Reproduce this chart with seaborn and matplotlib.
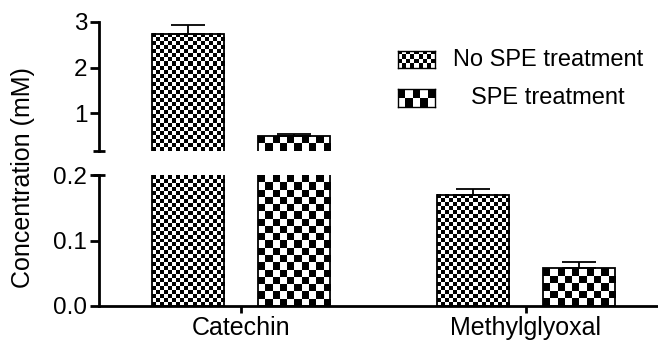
import numpy as np
import pandas as pd
import matplotlib
matplotlib.use("Agg")
import matplotlib.pyplot as plt
import seaborn as sns

# Data
compounds = ["Catechin", "Methylglyoxal"]
treatments = ["No SPE treatment", "SPE treatment"]
conc_no_spe = [2.74, 0.170]
conc_spe = [0.50, 0.058]
sem_no_spe = [0.20, 0.009]
sem_spe = [0.05, 0.009]

df = pd.DataFrame({
    "compound": compounds * 2,
    "treatment": [treatments[0]] * 2 + [treatments[1]] * 2,
    "conc": conc_no_spe + conc_spe,
    "sem": sem_no_spe + sem_spe,
})

sns.set_theme(style="ticks")
plt.rcParams["font.family"] = ["Liberation Sans", "DejaVu Sans"]
plt.rcParams["text.color"] = "black"
plt.rcParams["xtick.color"] = "black"
plt.rcParams["ytick.color"] = "black"
plt.rcParams["axes.edgecolor"] = "black"

W, H = 658, 342
fig = plt.figure(figsize=(W / 100, H / 100), dpi=100)


def fx(px):
    return px / W


def fy(py):
    return 1 - py / H


LEFT, RIGHT = 99, 657
ax_top = fig.add_axes([fx(LEFT), fy(151), fx(RIGHT - LEFT), (151 - 22) / H])
ax_bot = fig.add_axes([fx(LEFT), fy(306), fx(RIGHT - LEFT), (306 - 175) / H])

cell_px = {0: 4.0, 1: 7.2}
TICK_FS = 17.5
XLAB_FS = 18
YLAB_FS = 18
LEG_FS = 17
LW = 2.0


def checker(nx, ny):
    return (np.add.outer(np.arange(ny), np.arange(nx)) % 2).astype(float)


for ax, ylim in [(ax_top, (0.18, 3.0)), (ax_bot, (0.0, 0.2))]:
    sns.barplot(data=df, x="compound", y="conc", hue="treatment",
                order=compounds, hue_order=treatments, width=0.745, gap=0.32,
                errorbar=None, palette=["white", "white"], edgecolor="black",
                linewidth=1.3, legend=False, ax=ax)
    ax.set_xlim(-0.498, 1.46)
    ax.set_ylim(*ylim)
    ax.set_xlabel("")
    ax.set_ylabel("")

    for p in list(ax.patches):
        xc = p.get_x() + p.get_width() / 2
        i = int(round(xc))
        j = 0 if xc < i else 1
        val = p.get_height()
        err = (sem_no_spe if j == 0 else sem_spe)[i]
        if val <= ylim[0]:
            # bar lies entirely below this panel's range
            p.set_visible(False)
            continue
        # checkerboard fill clipped to the visible part of the bar
        x0, x1 = p.get_x(), p.get_x() + p.get_width()
        y0, y1 = max(p.get_y(), ylim[0]), min(val, ylim[1])
        (dx0, dy0), (dx1, dy1) = ax.transData.transform([(x0, y0), (x1, y1)])
        nx = max(1, int(round((dx1 - dx0) / cell_px[j])))
        ny = max(1, int(round((dy1 - dy0) / cell_px[j])))
        ax.imshow(checker(nx, ny), extent=(x0, x1, y0, y1), cmap="gray",
                  vmin=0, vmax=1, interpolation="nearest", aspect="auto",
                  zorder=1)
        p.set_facecolor("none")
        p.set_zorder(2)
        # error bar only where the bar top lies inside this panel
        if val < ylim[1]:
            ax.errorbar(xc, val, yerr=[[0], [err]], fmt="none", ecolor="black",
                        elinewidth=1.3, capsize=12, capthick=1.3, zorder=3)
    ax.set_xlim(-0.498, 1.46)
    ax.set_ylim(*ylim)
    for s in ["top", "right"]:
        ax.spines[s].set_visible(False)
    ax.spines["left"].set_linewidth(LW)
    ax.spines["bottom"].set_linewidth(LW)
    ax.tick_params(axis="y", length=6.5, width=LW, labelsize=TICK_FS, pad=2,
                   color="black", labelcolor="black")
    ax.tick_params(axis="x", length=5, width=LW, labelsize=XLAB_FS, pad=2,
                   color="black", labelcolor="black")

# upper panel: no x axis
ax_top.spines["bottom"].set_visible(False)
ax_top.set_xticks([])
ax_top.set_yticks([1, 2, 3])
ax_top.set_yticklabels(["1", "2", "3"])

ax_bot.set_yticks([0.0, 0.1, 0.2])
ax_bot.set_yticklabels(["0.0", "0.1", "0.2"])
ax_bot.set_xticks([0, 1])
ax_bot.set_xticklabels(compounds)

# break marks at the gap between panels
d = 6 / (RIGHT - LEFT)
ax_top.plot([-d, d], [0, 0], transform=ax_top.transAxes, color="black",
            lw=LW, clip_on=False, solid_capstyle="butt")
ax_bot.plot([-d, d], [1, 1], transform=ax_bot.transAxes, color="black",
            lw=LW, clip_on=False, solid_capstyle="butt")

fig.text(fx(23), fy(178), "Concentration (mM)", rotation=90, ha="center",
         va="center", fontsize=YLAB_FS, color="black")

# legend
for j, (ytop, ytxt) in enumerate([(50.7, 60), (89.3, 98)]):
    lax = fig.add_axes([fx(398), fy(ytop + 17.6), fx(37), 17.6 / H])
    nx = int(round(37 / cell_px[j]))
    ny = max(1, int(round(17.6 / cell_px[j])))
    lax.imshow(checker(nx, ny), cmap="gray", vmin=0, vmax=1,
               interpolation="nearest", aspect="auto")
    lax.set_xticks([])
    lax.set_yticks([])
    for s in lax.spines.values():
        s.set_linewidth(1.0)
        s.set_color("black")
    fig.text(fx(548), fy(ytxt), treatments[j], ha="center", va="center",
             fontsize=LEG_FS, color="black")

fig.savefig("out.png", dpi=100)
